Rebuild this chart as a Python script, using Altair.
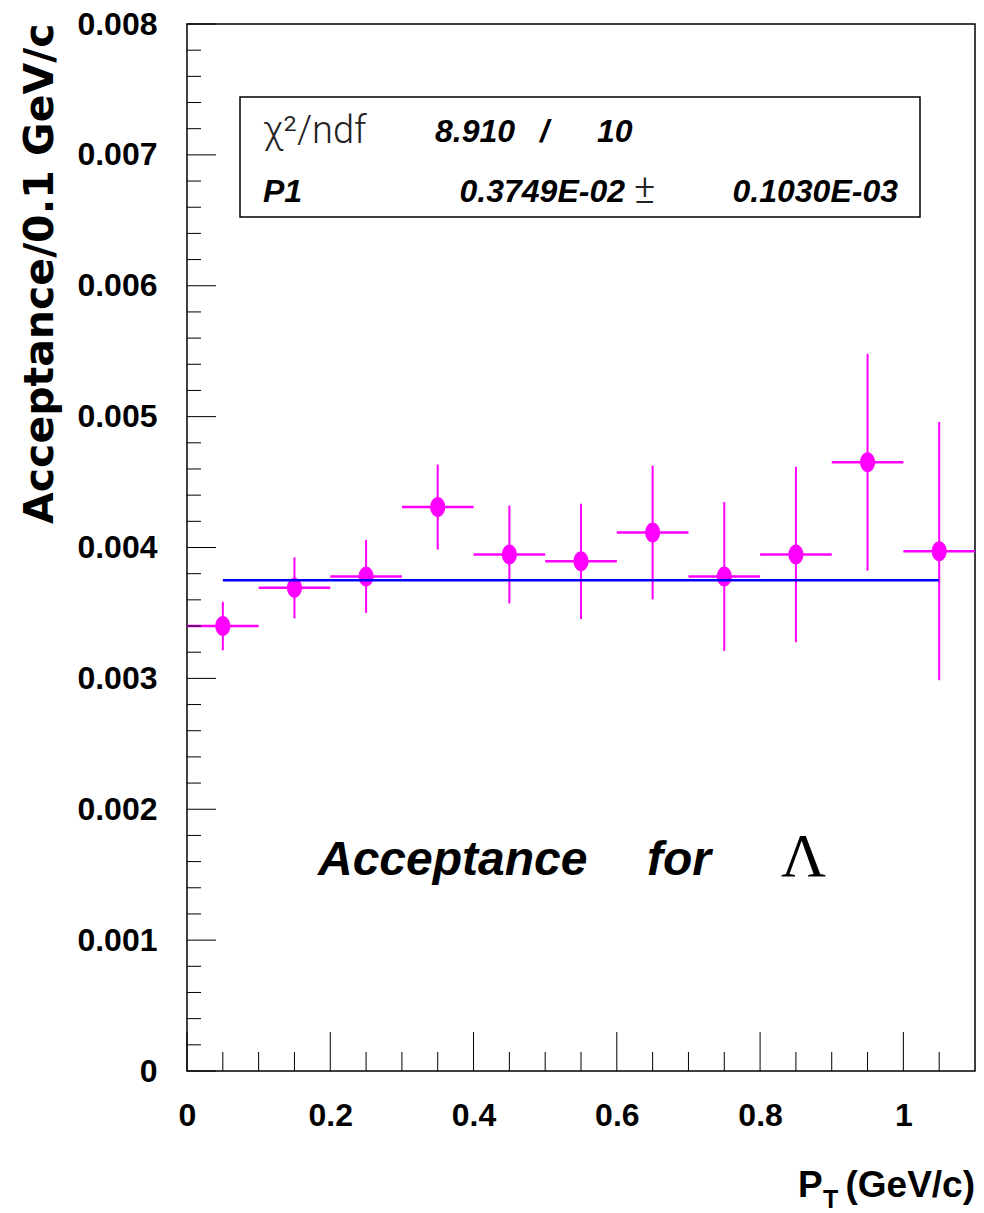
import altair as alt
import pandas as pd

# ---- data ----
pt = [0.05, 0.15, 0.25, 0.35, 0.45, 0.55, 0.65, 0.75, 0.85, 0.95, 1.05]
acc = [0.003400, 0.003692, 0.003779, 0.004309, 0.003947, 0.003894,
       0.004115, 0.003779, 0.003947, 0.004652, 0.003972]
acc_err = [0.000185, 0.000233, 0.000279, 0.000325, 0.000374, 0.000440,
           0.000511, 0.000569, 0.000670, 0.000828, 0.000987]
bin_half = 0.05
fit_p1 = 0.003749
fit_lo, fit_hi = 0.05, 1.05

x_major = [0, 0.2, 0.4, 0.6, 0.8, 1.0]
x_minor = [0.05, 0.1, 0.15, 0.25, 0.3, 0.35, 0.45, 0.5, 0.55, 0.65, 0.7, 0.75,
           0.85, 0.9, 0.95, 1.05]
y_major = [0, 0.001, 0.002, 0.003, 0.004, 0.005, 0.006, 0.007, 0.008]
y_minor = [round(0.0002 * i, 5) for i in range(41) if i % 5 != 0]

W, H = 788, 1047
MAG = "#ff00ff"
SANS = "Liberation Sans, Arial, Helvetica, sans-serif"
LIGHT = "Roboto, Liberation Sans, sans-serif"

df = pd.DataFrame({"x": pt, "y": acc, "err": acc_err})
df["xlo"] = df["x"] - bin_half
df["xhi"] = df["x"] + bin_half
df["ylo"] = df["y"] - df["err"]
df["yhi"] = df["y"] + df["err"]

fit_df = pd.DataFrame({"x0": [fit_lo], "x1": [fit_hi], "p1": [fit_p1]})
xmaj_df = pd.DataFrame({"v": x_major})
xmin_df = pd.DataFrame({"v": x_minor})
ymaj_df = pd.DataFrame({"v": y_major})
ymin_df = pd.DataFrame({"v": y_minor})
one = pd.DataFrame({"a": [0]})

xscale = alt.Scale(domain=[0, 1.1], nice=False, zero=False)
yscale = alt.Scale(domain=[0, 0.008], nice=False, zero=False)
YT = "Acceptance/0.1  GeV/c"

xaxis = alt.Axis(values=x_major, format="~g", ticks=False, domain=False,
                 grid=False, labelFont=SANS, labelFontWeight="bold",
                 labelFontSize=32, labelColor="black", labelPadding=29,
                 labelFlush=False)
yaxis = alt.Axis(values=y_major, ticks=False, domain=False, grid=False,
                 labelExpr="datum.value == 0 ? '0' : format(datum.value, '.3f')",
                 labelFont=SANS, labelFontWeight="bold", labelFontSize=32,
                 labelColor="black", labelPadding=30, labelFlush=False,
                 titleX=-147, titleY=-1, titleAngle=270, titleAlign="right",
                 titleBaseline="middle", titleFont="DejaVu Sans",
                 titleFontWeight="bold", titleFontSize=41, titleColor="black")

hbars = alt.Chart(df).mark_rule(color=MAG, strokeWidth=2.5).encode(
    x=alt.X("xlo:Q", scale=xscale, axis=xaxis, title=""),
    x2="xhi:Q",
    y=alt.Y("y:Q", scale=yscale, axis=yaxis, title=YT),
)
vbars = alt.Chart(df).mark_rule(color=MAG, strokeWidth=2).encode(
    x=alt.X("x:Q", scale=xscale, title=""),
    y=alt.Y("ylo:Q", scale=yscale, title=YT),
    y2="yhi:Q",
)
ellipse = "M -0.75 0 A 0.75 1 0 1 1 0.75 0 A 0.75 1 0 1 1 -0.75 0 Z"
points = alt.Chart(df).mark_point(shape=ellipse, filled=True, size=400,
                                  color=MAG, opacity=1, strokeWidth=0).encode(
    x=alt.X("x:Q", scale=xscale, title=""),
    y=alt.Y("y:Q", scale=yscale, title=YT),
)
fit = alt.Chart(fit_df).mark_rule(color="#0000ff", strokeWidth=2.5).encode(
    x=alt.X("x0:Q", scale=xscale, title=""),
    x2="x1:Q",
    y=alt.Y("p1:Q", scale=yscale, title=YT),
)

# inward ticks
ytick_maj = alt.Chart(ymaj_df).mark_rule(color="black", strokeWidth=1).encode(
    y=alt.Y("v:Q", scale=yscale, title=YT), x=alt.value(0), x2=alt.value(29))
ytick_min = alt.Chart(ymin_df).mark_rule(color="black", strokeWidth=1).encode(
    y=alt.Y("v:Q", scale=yscale, title=YT), x=alt.value(0), x2=alt.value(14))
xtick_maj = alt.Chart(xmaj_df).mark_rule(color="black", strokeWidth=1).encode(
    x=alt.X("v:Q", scale=xscale, title=""), y=alt.value(H), y2=alt.value(H - 39))
xtick_min = alt.Chart(xmin_df).mark_rule(color="black", strokeWidth=1).encode(
    x=alt.X("v:Q", scale=xscale, title=""), y=alt.value(H), y2=alt.value(H - 19))

# statistics box
box = alt.Chart(one).mark_rect(fill="white", stroke="black", strokeWidth=1.5).encode(
    x=alt.value(53), x2=alt.value(733), y=alt.value(73), y2=alt.value(193))


def txt(text, x, y, size, font=SANS, weight="bold", style="italic",
        align="left", color="black"):
    return alt.Chart(one).mark_text(
        text=text, font=font, fontSize=size, fontWeight=weight, fontStyle=style,
        align=align, baseline="alphabetic", color=color,
    ).encode(x=alt.value(x), y=alt.value(y))


stats = [
    txt("χ²/ndf", 76, 119, 38, font=LIGHT, weight=300, style="normal",
        color="#222222"),
    txt("8.910", 248, 118, 32),
    txt("/", 353, 118, 32),
    txt("10", 410, 118, 32),
    txt("P1", 76, 178, 32),
    txt("0.3749E-02", 438, 178, 32, align="right"),
    txt("±", 447, 179, 40, font=LIGHT, weight=300, style="normal",
        color="#222222"),
    txt("0.1030E-03", 711, 178, 32, align="right"),
]

label = [
    txt("Acceptance", 131, 851, 48),
    txt("for", 460, 851, 48),
    txt("Λ", 594, 852, 62, font="Liberation Serif, DejaVu Serif",
        weight="normal", style="normal"),
]

xtitle = [
    txt("P", 611, 1173, 37, style="normal"),
    txt("T", 636, 1184, 25, style="normal"),
    txt("(GeV/c)", 788, 1173, 37, style="normal", align="right"),
]

chart = alt.layer(
    hbars, vbars, points, fit,
    ytick_maj, ytick_min, xtick_maj, xtick_min,
    box, *stats, *label, *xtitle,
).properties(
    width=W, height=H,
    autosize=alt.AutoSizeParams(type="none"),
    padding={"left": 187, "top": 24, "right": 9, "bottom": 142},
    background="white",
).configure_view(
    stroke="black", strokeWidth=1.5, fill="white",
)

chart.save("out.html", embed_options={"renderer": "svg", "actions": False})
